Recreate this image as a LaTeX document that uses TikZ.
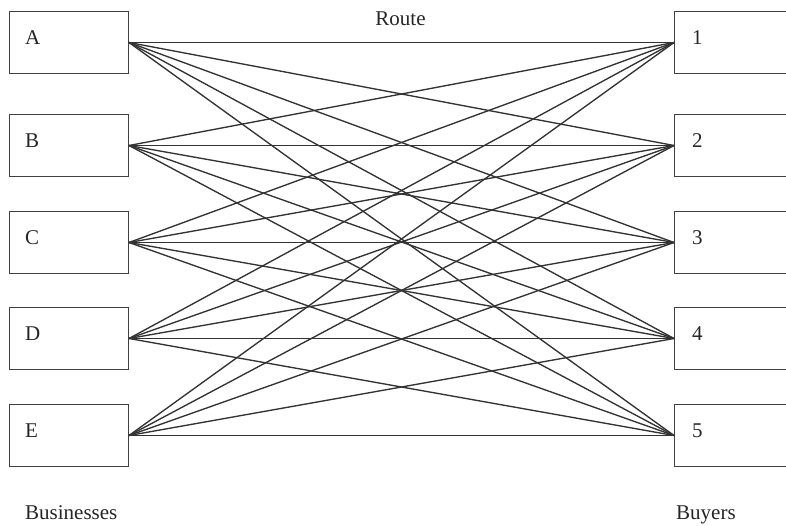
\documentclass[tikz,border=0pt]{standalone}
\usepackage{fontspec}
\setmainfont{Liberation Serif}
\begin{document}
\begin{tikzpicture}[x=1pt,y=-1pt,
  box/.style={draw=black!75, line width=1.3pt, minimum width=119pt, minimum height=62.5pt, inner sep=0pt, anchor=west},
  rbox/.style={box, minimum width=140pt},
  route/.style={draw=black!80, line width=1.35pt},
  lbl/.style={font=\fontsize{21}{24}\selectfont, inner sep=0pt, anchor=base west, text=black!85}]
\path[use as bounding box] (0,0) rectangle (786,526);
\clip (0,0) rectangle (786,526);
\foreach \n/\y in {A/42.5,B/145.5,C/242.5,D/338.5,E/435.5}{
  \node[box] (\n) at (8.7,\y) {};
  \node[lbl] (t\n) at (25,\y+2) {\n};
}
\foreach \n/\y in {1/42.5,2/145.5,3/242.5,4/338.5,5/435.5}{
  \node[rbox] (R\n) at (674,\y) {};
  \node[lbl] (t\n) at (692,\y+2) {\n};
}
\foreach \l in {A,B,C,D,E}{
  \foreach \r in {1,2,3,4,5}{
    \draw[route] (\l.east) -- (R\r.west);
  }
}
\node[lbl, anchor=base] (route) at (400.5,26) {Route};
\node[lbl] (bus) at (25,519) {Businesses};
\node[lbl] (buy) at (676,519) {Buyers};
\end{tikzpicture}
\end{document}
